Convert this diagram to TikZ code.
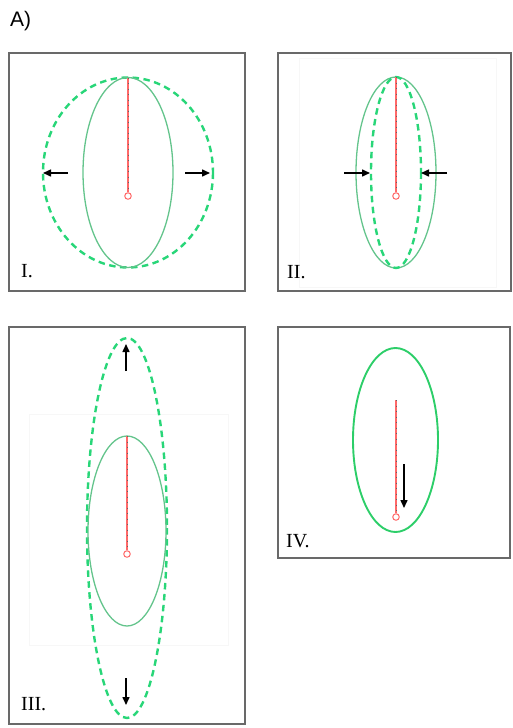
\documentclass[tikz,border=0pt]{standalone}
\usepackage{fontspec}
\newfontfamily\labelsans{Liberation Sans}
\newfontfamily\labelserif{Liberation Serif}
\usetikzlibrary{arrows.meta}
\definecolor{cellgreen}{RGB}{100,196,140}
\definecolor{dashgreen}{RGB}{40,214,120}
\definecolor{brightgreen}{RGB}{45,206,105}
\definecolor{fibrered}{RGB}{255,105,105}
\definecolor{framegray}{RGB}{105,105,105}

\begin{document}
\begin{tikzpicture}[x=1pt, y=-1pt,
    frame/.style={draw=framegray, line width=1.6pt},
    faint/.style={draw=black!3, line width=0.6pt},
    cell/.style={draw=cellgreen, line width=1.3pt},
    stretched/.style={draw=dashgreen, line width=2.4pt, dash pattern=on 6.5pt off 4.5pt},
    fibre/.style={draw=fibrered, line width=1.8pt},
    ticks/.style={draw=black!60, line width=1pt, dash pattern=on 0.9pt off 4.6pt},
    pin/.style={circle, draw=fibrered, line width=1pt, fill=white, minimum size=6.5pt, inner sep=0pt},
    push/.style={-{Triangle[length=8pt,width=7pt]}, line width=1.5pt},
    tag/.style={anchor=base west, inner sep=0pt, font=\labelserif\fontsize{20}{20}\selectfont}
]
\useasboundingbox (0,0) rectangle (512,728);

% Title
\node[anchor=base west, inner sep=0pt, font=\labelsans\fontsize{21}{21}\selectfont] (title) at (10,26) {A)};

% Panel I
\draw[frame] (9,53) rectangle (245,291);
\coordinate (c1) at (128,172.5);
\draw[stretched] (c1) circle[x radius=85, y radius=95];
\draw[cell] (c1) circle[x radius=45, y radius=95];
\coordinate (top1) at (128,77.5);
\node[pin] (pin1) at (128,196) {};
\draw[fibre] (top1) -- (pin1);
\draw[ticks] (top1) -- (pin1);
\coordinate (a1s) at (68,173);
\coordinate (a1e) at (43,173);
\coordinate (b1s) at (185,173);
\coordinate (b1e) at (210,173);
\draw[push] (a1s) -- (a1e);
\draw[push] (b1s) -- (b1e);
\node[tag] (lab1) at (21,277) {I.};

% Panel II
\draw[frame] (278,53) rectangle (511,291);
\draw[faint] (299,58) rectangle (496,287);
\coordinate (c2) at (396,172.5);
\draw[cell] (c2) circle[x radius=40, y radius=95.5];
\draw[stretched] (c2) circle[x radius=25, y radius=95.5];
\coordinate (top2) at (396,77);
\node[pin] (pin2) at (396,196) {};
\draw[fibre] (top2) -- (pin2);
\draw[ticks] (top2) -- (pin2);
\coordinate (a2s) at (344,173);
\coordinate (a2e) at (370,173);
\coordinate (b2s) at (447,173);
\coordinate (b2e) at (421,173);
\draw[push] (a2s) -- (a2e);
\draw[push] (b2s) -- (b2e);
\node[tag] (lab2) at (287,278) {II.};

% Panel III
\draw[frame] (9,327) rectangle (245,724);
\draw[faint] (29,414) rectangle (228,645);
\coordinate (c3) at (127,528);
\coordinate (d3) at (127,531);
\draw[stretched] (c3) circle[x radius=40, y radius=190];
\draw[cell] (d3) circle[x radius=39, y radius=95];
\coordinate (top3) at (127,436);
\node[pin] (pin3) at (127,554) {};
\draw[fibre] (top3) -- (pin3);
\draw[ticks] (top3) -- (pin3);
\coordinate (a3s) at (126,371);
\coordinate (a3e) at (126,344);
\coordinate (b3s) at (126,678);
\coordinate (b3e) at (126,705);
\draw[push] (a3s) -- (a3e);
\draw[push] (b3s) -- (b3e);
\node[tag] (lab3) at (21,710) {III.};

% Panel IV
\draw[frame] (278,327) rectangle (510,558);
\coordinate (c4) at (395.5,440);
\draw[draw=brightgreen, line width=1.9pt] (c4) circle[x radius=42.5, y radius=92];
\coordinate (top4) at (396,400);
\node[pin] (pin4) at (396,517) {};
\draw[fibre] (top4) -- (pin4);
\draw[ticks] (top4) -- (pin4);
\coordinate (a4s) at (404,464);
\coordinate (a4e) at (404,508);
\draw[push] (a4s) -- (a4e);
\node[tag] (lab4) at (286,547) {IV.};

\end{tikzpicture}
\end{document}
